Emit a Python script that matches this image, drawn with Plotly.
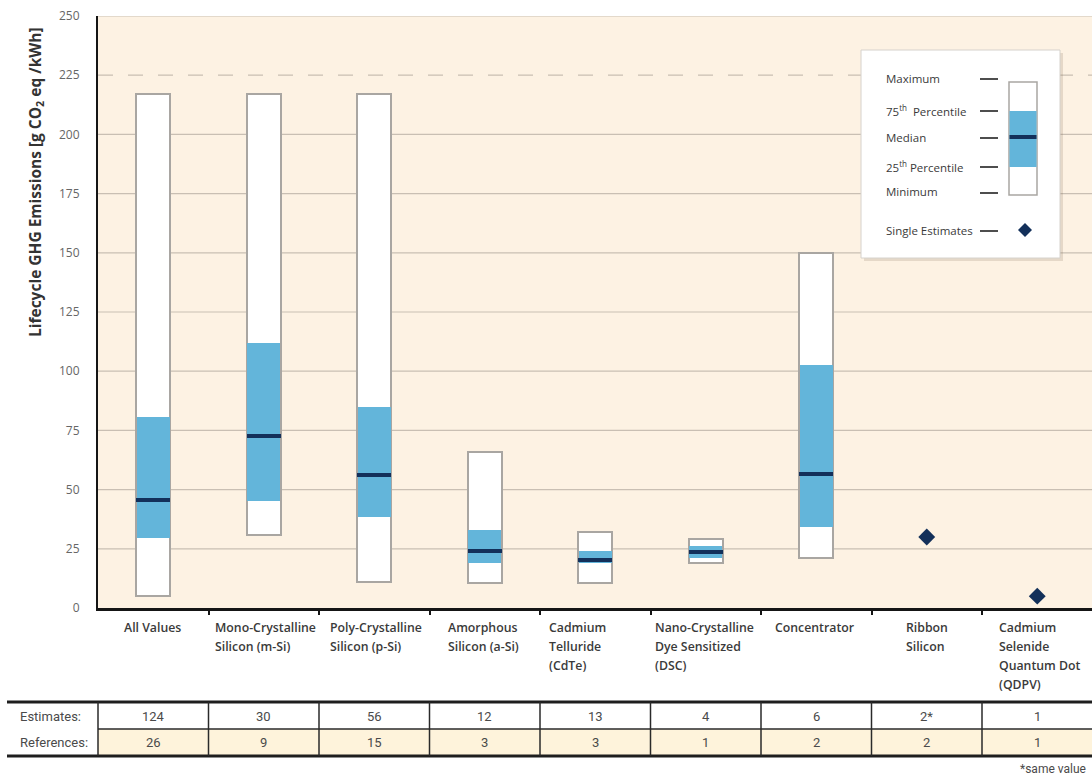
import plotly.graph_objects as go

# ---- data -------------------------------------------------------------
categories = [
    ["All Values"],
    ["Mono-Crystalline", "Silicon (m-Si)"],
    ["Poly-Crystalline", "Silicon (p-Si)"],
    ["Amorphous", "Silicon (a-Si)"],
    ["Cadmium", "Telluride", "(CdTe)"],
    ["Nano-Crystalline", "Dye Sensitized", "(DSC)"],
    ["Concentrator"],
    ["Ribbon", "Silicon"],
    ["Cadmium", "Selenide", "Quantum Dot", "(QDPV)"],
]

# box statistics for the first seven technologies (g CO2 eq / kWh)
box_minimum = [5, 31, 11, 10.5, 10.5, 19, 21]
box_q1 = [29.5, 45, 38.5, 19, 18.8, 21, 34]
box_median = [45.5, 72.5, 56, 24, 20.3, 23.8, 56.5]
box_q3 = [80.5, 112, 85, 33, 24, 26.3, 102.5]
box_maximum = [217, 217, 217, 66, 32, 29, 150]

# technologies with a single estimate
single_index = [7, 8]
single_value = [30, 5]

estimates = ["124", "30", "56", "12", "13", "4", "6", "2*", "1"]
references = ["26", "9", "15", "3", "3", "1", "2", "2", "1"]

y_ticks = [0, 25, 50, 75, 100, 125, 150, 175, 200, 225, 250]

# ---- styling / geometry ----------------------------------------------
W, H = 1092, 776
ML, MR, MT, MB = 98, 0, 16, 168
PW, PH = W - ML - MR, H - MT - MB
COL = 110.5  # pixel width of one category
BG = "#FDF2E3"
BLUE = "#63B5DA"
NAVY = "#13305A"
BORDER = "#A9A6A2"
GRID = "#C9BFB3"
TEXT = "#3A3A3A"
BOX_W = 0.31
MED_H = 1.7

x_lo = -0.5
x_hi = x_lo + PW / COL


def px(xp):
    return (xp - ML) / PW


def py(yp):
    return (H - MB - yp) / PH


box_x = list(range(len(box_minimum)))

fig = go.Figure()

# full range (white)
fig.add_trace(go.Bar(
    x=box_x, base=box_minimum,
    y=[mx - mn for mx, mn in zip(box_maximum, box_minimum)],
    width=BOX_W, marker=dict(color="white", line=dict(color=BORDER, width=2)),
    hoverinfo="skip", showlegend=False,
))
# inter-quartile range (blue)
fig.add_trace(go.Bar(
    x=box_x, base=box_q1,
    y=[b - a for a, b in zip(box_q1, box_q3)],
    width=BOX_W - 0.012, marker=dict(color=BLUE, line=dict(width=0)),
    hoverinfo="skip", showlegend=False,
))
# median
fig.add_trace(go.Bar(
    x=box_x, base=[m - MED_H / 2 for m in box_median],
    y=[MED_H] * len(box_median),
    width=BOX_W, marker=dict(color=NAVY, line=dict(width=0)),
    hoverinfo="skip", showlegend=False,
))
# single estimates
fig.add_trace(go.Scatter(
    x=single_index, y=single_value, mode="markers",
    marker=dict(symbol="diamond", size=13, color=NAVY),
    hoverinfo="skip", showlegend=False,
))

shapes = []
annotations = []

# horizontal grid lines
for v in y_ticks[1:]:
    shapes.append(dict(
        type="line", xref="paper", yref="y", x0=0, x1=1, y0=v, y1=v,
        line=dict(color=GRID, width=1.2, dash="longdash" if v == 225 else "solid"),
        layer="below",
    ))

# category labels below the axis, one line per annotation
label_left = [122, 213, 328, 446, 547, 653, 773, 904, 997]
for lines, left in zip(categories, label_left):
    for j, line in enumerate(lines):
        annotations.append(dict(
            xref="paper", yref="paper", x=px(left), y=py(627 + 19 * j),
            xanchor="left", yanchor="middle", showarrow=False, text=line,
            font=dict(family="Open Sans", size=12.3, color=TEXT, weight=600),
        ))

# y-axis title
annotations.append(dict(
    xref="paper", yref="paper", x=px(36), y=py(182), textangle=-90,
    xanchor="center", yanchor="middle", showarrow=False,
    text="Lifecycle GHG Emissions [g CO<sub>2</sub> eq /kWh]",
    font=dict(family="Open Sans", size=15.5, color="#333333", weight=700),
))

# ---- legend panel ------------------------------------------------------
lg_x0, lg_x1, lg_y0, lg_y1 = 861, 1060, 50, 258
shapes.append(dict(type="rect", xref="paper", yref="paper",
                   x0=px(lg_x0 + 3), x1=px(lg_x1 + 3), y0=py(lg_y0 + 3), y1=py(lg_y1 + 3),
                   fillcolor="rgba(120,100,80,0.18)", line=dict(width=0), layer="above"))
shapes.append(dict(type="rect", xref="paper", yref="paper",
                   x0=px(lg_x0), x1=px(lg_x1), y0=py(lg_y0), y1=py(lg_y1),
                   fillcolor="white", line=dict(color="#D6D2CC", width=1), layer="above"))
legend_rows = [
    ("Maximum", 78),
    ("75<sup>th</sup>  Percentile", 110),
    ("Median", 137),
    ("25<sup>th</sup> Percentile", 166),
    ("Minimum", 192),
    ("Single Estimates", 230),
]
for label, yy in legend_rows:
    annotations.append(dict(
        xref="paper", yref="paper", x=px(884), y=py(yy), xanchor="left",
        yanchor="middle", showarrow=False, text=label,
        font=dict(family="Open Sans", size=11.5, color=TEXT),
    ))
    shapes.append(dict(type="line", xref="paper", yref="paper",
                       x0=px(980), x1=px(998), y0=py(yy + 1), y1=py(yy + 1),
                       line=dict(color="#222222", width=1.6), layer="above"))
# miniature box
shapes.append(dict(type="rect", xref="paper", yref="paper",
                   x0=px(1009), x1=px(1037), y0=py(82), y1=py(195),
                   fillcolor="white", line=dict(color=BORDER, width=1.5), layer="above"))
shapes.append(dict(type="rect", xref="paper", yref="paper",
                   x0=px(1009.5), x1=px(1036.5), y0=py(111), y1=py(167),
                   fillcolor=BLUE, line=dict(width=0), layer="above"))
shapes.append(dict(type="rect", xref="paper", yref="paper",
                   x0=px(1009.5), x1=px(1036.5), y0=py(135), y1=py(139),
                   fillcolor=NAVY, line=dict(width=0), layer="above"))
cx, cy, r = 1025, 230, 7
shapes.append(dict(
    type="path", xref="paper", yref="paper",
    path=f"M {px(cx)} {py(cy - r)} L {px(cx + r)} {py(cy)} L {px(cx)} {py(cy + r)} L {px(cx - r)} {py(cy)} Z",
    fillcolor=NAVY, line=dict(width=0), layer="above",
))

# ---- table of estimates / references ---------------------------------
t_top, t_mid, t_bot = 702, 729, 756
shapes.append(dict(type="rect", xref="paper", yref="paper",
                   x0=px(ML), x1=px(W), y0=py(t_mid), y1=py(t_bot),
                   fillcolor="#FEF3DB", line=dict(width=0)))
for yy in (t_top, t_bot):
    shapes.append(dict(type="line", xref="paper", yref="paper",
                       x0=px(7), x1=px(W), y0=py(yy), y1=py(yy),
                       line=dict(color="#1E1E1E", width=3)))
shapes.append(dict(type="line", xref="paper", yref="paper",
                   x0=px(ML), x1=px(W), y0=py(t_mid), y1=py(t_mid),
                   line=dict(color="#2A2A2A", width=1.5)))
for k in range(len(categories)):
    xl = ML + COL * k
    shapes.append(dict(type="line", xref="paper", yref="paper",
                       x0=px(xl), x1=px(xl), y0=py(t_top), y1=py(t_bot),
                       line=dict(color="#2A2A2A", width=1.5)))

table_font = dict(family="Liberation Sans Narrow, Roboto, sans-serif", size=13, color="#4A4A4A")
for name, yy in (("Estimates:", 716), ("References:", 742)):
    annotations.append(dict(xref="paper", yref="paper", x=px(18), y=py(yy),
                            xanchor="left", yanchor="middle", showarrow=False,
                            text=name, font=table_font))
for i, (e, rf) in enumerate(zip(estimates, references)):
    annotations.append(dict(xref="x", yref="paper", x=i, y=py(716),
                            xanchor="center", yanchor="middle", showarrow=False,
                            text=e, font=table_font))
    annotations.append(dict(xref="x", yref="paper", x=i, y=py(742),
                            xanchor="center", yanchor="middle", showarrow=False,
                            text=rf, font=table_font))
annotations.append(dict(xref="paper", yref="paper", x=px(1088), y=py(769),
                        xanchor="right", yanchor="middle", showarrow=False,
                        text="*same value",
                        font=dict(family="Liberation Sans Narrow, Roboto, sans-serif",
                                  size=12, color="#4A4A4A")))

fig.update_layout(
    width=W, height=H,
    margin=dict(l=ML, r=MR, t=MT, b=MB, pad=0),
    paper_bgcolor="white", plot_bgcolor=BG,
    barmode="overlay", bargap=0,
    shapes=shapes, annotations=annotations,
    xaxis=dict(
        range=[x_lo, x_hi], showgrid=False, zeroline=False,
        showline=True, linecolor="#151515", linewidth=3,
        tickmode="array", tickvals=[k + 0.5 for k in range(len(categories) - 1)],
        showticklabels=False,
        ticks="outside", ticklen=4, tickwidth=2, tickcolor="#151515",
        fixedrange=True,
    ),
    yaxis=dict(
        range=[0, 250], showgrid=False, zeroline=False,
        showline=True, linecolor="#151515", linewidth=2,
        tickmode="array", tickvals=y_ticks, ticks="",
        ticklabelstandoff=14,
        tickfont=dict(family="Open Sans", size=12, color="#666666"),
        fixedrange=True,
    ),
    font=dict(family="Open Sans"),
)

fig.write_html("out.html")
